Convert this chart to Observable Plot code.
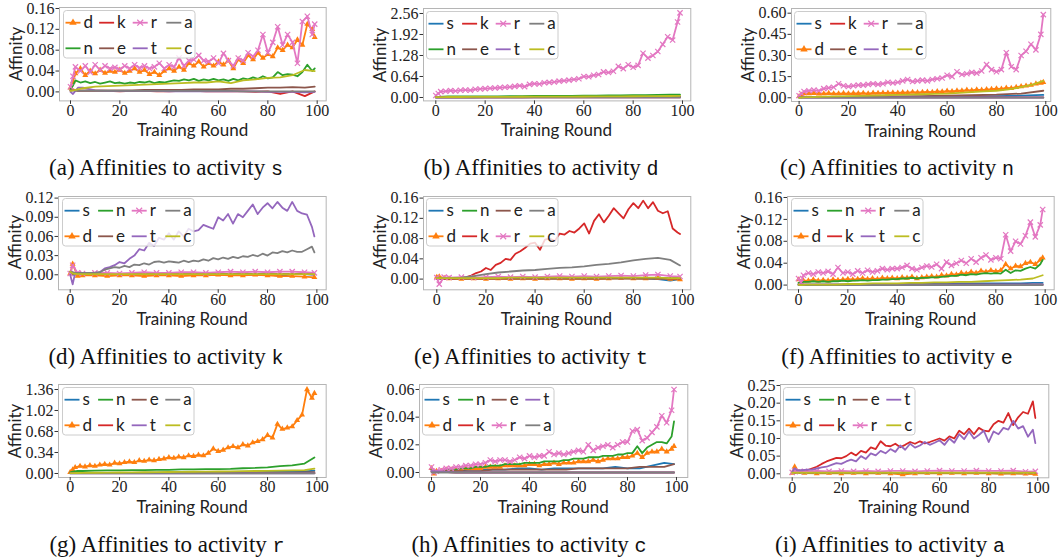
<!DOCTYPE html>
<html><head><meta charset="utf-8">
<script src="https://cdn.jsdelivr.net/npm/d3@7"></script>
<script src="https://cdn.jsdelivr.net/npm/@observablehq/plot@0.6"></script>
<style>
html,body{margin:0;padding:0;background:#fff;}
#root{position:relative;width:1060px;height:560px;overflow:hidden;background:#fff;}
.cap{position:absolute;font-family:"Liberation Serif","Times New Roman",serif;font-size:23px;line-height:1;color:#111;white-space:nowrap;transform:translate(-50%,-50%);}
.cap .tt{font-family:"Liberation Mono","DejaVu Sans Mono",monospace;font-size:20px;}
.lab{position:absolute;font-family:Lato,"DejaVu Sans",sans-serif;font-size:17px;line-height:1;color:#222;white-space:nowrap;transform:translate(-50%,-50%);}
.lab.rot{transform:translate(-50%,-50%) rotate(-90deg);}
</style></head><body><div id="root"></div>
<script>
// ---------- rounds (x categories) ----------
const R2 = [0,1,2,4,6,8,10,12,14,16,18,20,22,24,26,28,30,32,34,36,38,40,42,44,46,48,50,52,54,56,58,60,62,64,66,68,70,72,74,76,78,80,82,84,86,88,90,92,94,96,98,99];
const R5 = [0,1,3,5,10,15,20,25,30,35,40,45,50,55,60,65,70,75,80,85,90,95,99];
const R10 = [0,10,20,30,40,50,60,70,80,90,99];
const X_TICKS = [0,20,40,60,80,100];

// ---------- y tick values per panel ----------
const Y_TICKS_A = [0,0.04,0.08,0.12,0.16];
const Y_TICKS_B = [0,0.64,1.28,1.92,2.56];
const Y_TICKS_C = [0,0.15,0.30,0.45,0.60];
const Y_TICKS_D = [0,0.03,0.06,0.09,0.12];
const Y_TICKS_E = [0,0.04,0.08,0.12,0.16];
const Y_TICKS_F = [0,0.04,0.08,0.12,0.16];
const Y_TICKS_G = [0,0.34,0.68,1.02,1.36];
const Y_TICKS_H = [0,0.02,0.04,0.06];
const Y_TICKS_I = [0,0.05,0.10,0.15,0.20,0.25];

// ---------- (a) affinities to s ----------
const a_d = [0.008,0.020,0.035,0.045,0.032,0.040,0.035,0.042,0.036,0.040,
 0.038,0.042,0.036,0.040,0.045,0.038,0.042,0.034,0.038,0.032,
 0.040,0.045,0.040,0.048,0.042,0.055,0.050,0.058,0.048,0.055,
 0.050,0.058,0.052,0.060,0.045,0.062,0.055,0.070,0.062,0.075,
 0.065,0.072,0.068,0.085,0.080,0.090,0.085,0.100,0.090,0.130,
 0.120,0.105];
const a_n = [0.005,0.012,0.022,0.018,0.020,0.017,0.019,0.016,0.018,0.020,
 0.017,0.018,0.016,0.018,0.017,0.019,0.018,0.020,0.017,0.019,
 0.018,0.020,0.022,0.021,0.024,0.022,0.025,0.021,0.024,0.022,
 0.025,0.022,0.024,0.021,0.025,0.022,0.026,0.024,0.028,0.025,
 0.030,0.026,0.028,0.038,0.032,0.034,0.033,0.030,0.038,0.052,
 0.040,0.045];
const a_r = [0.010,0.030,0.048,0.040,0.050,0.038,0.052,0.042,0.050,0.045,
 0.047,0.043,0.050,0.045,0.052,0.046,0.050,0.045,0.048,0.055,
 0.045,0.052,0.048,0.065,0.050,0.060,0.062,0.070,0.060,0.058,
 0.065,0.055,0.074,0.060,0.050,0.065,0.060,0.075,0.068,0.080,
 0.110,0.075,0.095,0.125,0.090,0.110,0.095,0.055,0.135,0.145,
 0.110,0.130];
const a_k = [0.002,0.005,0.002,0.002, 0.002,0.002,0.001,0.002,0.002,0.001,0.001,0.002,0.002,0.001,0.001,0.001,0.001,0.000, 0.001,-0.004,0.001,-0.008,0.001];
const a_e = [0.003,0.003,0.003,0.003, 0.003,0.003,0.003,0.003,0.004,0.004,0.004,0.004,0.005,0.005,0.005,0.006,0.006,0.007, 0.008,0.008,0.009,0.008,0.010];
const a_t = [0.000,-0.004,0.008,0.008, 0.003,0.002,0.002,0.002,0.002,0.002,0.001,0.001,0.001,0.001,0.001,0.001,0.001,0.001, 0.000,0.000,0.000,-0.001,0.000];
const a_a = [0.003,0.003,0.002,0.002, 0.002,0.002,0.002,0.002,0.002,0.002,0.002,0.002,0.002,0.002,0.002,0.002,0.001,0.001, 0.001,0.001,0.001,0.001,0.001];
const a_c = [0.002,0.003,0.005,0.007, 0.010,0.011,0.012,0.013,0.014,0.015,0.016,0.017,0.018,0.018,0.020,0.017,0.022,0.024, 0.027,0.028,0.032,0.042,0.040];

// ---------- (b) affinities to d ----------
const b_s = [0.005,0.005,0.006,0.007, 0.008,0.008,0.009,0.010,0.010,0.011,0.012,0.012,0.013,0.014,0.014,0.015,0.016,0.017, 0.018,0.019,0.020,0.022,0.025];
const b_n = [0.020,0.020,0.025,0.030, 0.030,0.033,0.035,0.037,0.040,0.042,0.045,0.047,0.050,0.052,0.055,0.058,0.060,0.065, 0.070,0.075,0.080,0.085,0.090];
const b_k = [0.004,0.004,0.004,0.004,0.004,0.004,0.004,0.004,0.004,0.004,0.004];
const b_e = [0.005,0.005,0.005,0.005, 0.006,0.006,0.007,0.007,0.008,0.008,0.009,0.009,0.010,0.010,0.011,0.011,0.012,0.012, 0.013,0.014,0.015,0.016,0.018];
const b_r = [0.06,0.12,0.18,0.19,0.21,0.20,0.22,0.23,0.22,0.25,
 0.26,0.27,0.28,0.29,0.30,0.31,0.32,0.34,0.36,0.33,
 0.40,0.42,0.41,0.45,0.46,0.47,0.50,0.51,0.53,0.55,
 0.57,0.64,0.63,0.68,0.70,0.78,0.76,0.80,0.95,0.88,
 1.00,0.92,0.98,1.35,1.20,1.28,1.40,1.62,1.85,1.75,
 2.30,2.58];
const b_t = [0.003,0.003,0.003,0.003,0.003,0.003,0.003,0.003,0.003,0.003,0.003];
const b_a = [0.002,0.002,0.002,0.002,0.002,0.002,0.002,0.002,0.002,0.002,0.002];
const b_c = [0.010,0.010,0.012,0.015, 0.015,0.017,0.018,0.020,0.020,0.022,0.024,0.025,0.027,0.028,0.030,0.032,0.034,0.036, 0.038,0.040,0.043,0.046,0.050];

// ---------- (c) affinities to n ----------
const c_s = [0.005,0.005,0.006,0.006,0.007,0.008,0.009,0.010,0.012,0.015,0.020];
const c_d = [0.010,0.020,0.030,0.030,0.032,0.028,0.030,0.032,0.030,0.030,
 0.032,0.030,0.032,0.031,0.033,0.030,0.034,0.033,0.035,0.034,
 0.036,0.035,0.038,0.036,0.040,0.038,0.040,0.042,0.040,0.045,
 0.043,0.048,0.046,0.050,0.050,0.055,0.052,0.058,0.055,0.060,
 0.062,0.065,0.063,0.070,0.068,0.075,0.080,0.085,0.090,0.100,
 0.105,0.110];
const c_k = [0.003,0.003,0.003,0.003,0.003,0.003,0.003,0.003,0.003,0.003,0.003];
const c_e = [0.005,0.006,0.007,0.008,0.010,0.012,0.015,0.018,0.022,0.030,0.050];
const c_r = [0.015,0.030,0.045,0.050,0.055,0.050,0.065,0.070,0.075,0.100,
 0.085,0.080,0.085,0.090,0.090,0.095,0.100,0.095,0.100,0.110,
 0.105,0.110,0.120,0.130,0.115,0.120,0.125,0.120,0.130,0.135,
 0.140,0.160,0.150,0.185,0.165,0.170,0.180,0.175,0.190,0.235,
 0.200,0.185,0.200,0.320,0.220,0.200,0.300,0.330,0.380,0.340,
 0.450,0.590];
const c_t = [0.002,0.002,0.002,0.002,0.002,0.002,0.002,0.002,0.002,0.002,0.002];
const c_a = [0.001,0.001,0.001,0.001,0.001,0.001,0.001,0.001,0.001,0.001,0.001];
const c_c = [0.000,0.002,0.004,0.005, 0.008,0.010,0.012,0.014,0.016,0.018,0.020,0.022,0.025,0.028,0.030,0.035,0.040,0.045, 0.050,0.060,0.075,0.095,0.120];

// ---------- (d) affinities to k ----------
const d_s = [0.002,0.000,0.001,0.001, 0.001,0.001,0.001,0.001,0.001,0.001,0.001,0.001,0.001,0.001,0.001,0.001,0.001,0.000, 0.001,-0.002,0.001,0.001,0.000];
const d_d = [0.002,0.017,-0.002,-0.001, -0.001,-0.002,-0.001,-0.001,-0.002,-0.001,-0.001,-0.002,-0.001,-0.001,0.000,-0.001,-0.001,0.000, -0.001,-0.002,-0.002,-0.003,-0.004];
const d_n = [0.004,0.002,0.001,0.001, 0.001,0.001,0.001,0.001,0.001,0.001,0.001,0.001,0.001,0.001,0.001,0.001,0.001,0.001, 0.001,0.001,0.001,0.001,0.001];
const d_e = [0.003,0.001,0.001,0.001, 0.001,0.001,0.001,0.001,0.001,0.001,0.001,0.001,0.001,0.001,0.001,0.001,0.001,0.001, 0.001,0.001,0.001,0.001,0.001];
const d_r = [0.002,0.015,0.003,0.002, 0.003,0.003,0.002,0.003,0.004,0.003,0.003,0.004,0.004,0.003,0.004,0.005,0.004,0.005, 0.004,0.005,0.005,0.004,0.003];
const d_t = [0.000,-0.015,0.003,0.003,0.003,0.003,0.003,0.004,0.010,0.012,
 0.015,0.020,0.018,0.025,0.030,0.040,0.038,0.050,0.045,0.058,
 0.055,0.065,0.055,0.068,0.060,0.072,0.068,0.070,0.078,0.075,
 0.072,0.090,0.085,0.095,0.080,0.095,0.090,0.100,0.110,0.095,
 0.105,0.112,0.104,0.114,0.105,0.100,0.114,0.100,0.096,0.094,
 0.075,0.060];
const d_a = [0.005,0.004,0.003,0.003,0.003,0.003,0.003,0.004,0.008,0.010,
 0.012,0.011,0.014,0.012,0.016,0.015,0.018,0.016,0.020,0.021,
 0.019,0.021,0.020,0.019,0.022,0.020,0.022,0.021,0.024,0.022,
 0.026,0.024,0.027,0.025,0.028,0.026,0.029,0.028,0.031,0.029,
 0.033,0.030,0.035,0.034,0.037,0.035,0.038,0.036,0.036,0.040,
 0.044,0.035];
const d_c = [0.005,0.002,0.001,0.001, 0.001,0.001,0.001,0.001,0.001,0.001,0.001,0.001,0.001,0.001,0.001,0.001,0.001,0.001, 0.001,0.001,0.001,0.001,0.001];

// ---------- (e) affinities to t ----------
const e_s = [0.002,0.001,0.001,0.001, 0.001,0.001,0.001,0.001,0.001,0.001,0.001,0.001,0.001,0.001,0.001,0.001,0.002,0.002, 0.002,0.001,0.000,-0.003,0.000];
const e_d = [0.004,0.005,0.002,0.001, 0.000,0.001,0.000,0.001,0.000,0.001,0.000,0.001,0.001,0.000,0.001,0.000,0.001,0.002, 0.001,0.001,0.002,0.000,-0.001];
const e_n = [0.003,0.002,0.002,0.002, 0.002,0.002,0.002,0.002,0.002,0.002,0.002,0.002,0.002,0.002,0.002,0.002,0.002,0.002, 0.002,0.002,0.002,0.002,0.002];
const e_k = [0.000,0.001,0.001,0.001,0.001,0.002,0.002,0.004,0.007,0.012,
 0.015,0.022,0.018,0.028,0.032,0.040,0.038,0.050,0.055,0.062,
 0.070,0.072,0.058,0.078,0.080,0.075,0.090,0.088,0.095,0.092,
 0.100,0.110,0.090,0.115,0.128,0.112,0.125,0.140,0.130,0.120,
 0.138,0.150,0.140,0.155,0.140,0.152,0.135,0.130,0.134,0.100,
 0.092,0.089];
const e_e = [0.002,0.001,0.001,0.001, 0.001,0.001,0.001,0.001,0.001,0.001,0.001,0.001,0.001,0.001,0.001,0.001,0.001,0.001, 0.001,0.001,0.001,0.001,0.001];
const e_r = [0.003,-0.010,0.004,0.003, 0.004,0.003,0.004,0.005,0.004,0.005,0.004,0.005,0.006,0.005,0.006,0.005,0.006,0.007, 0.006,0.008,0.009,0.006,0.005];
const e_a = [0.002,0.002,0.002,0.002, 0.003,0.006,0.010,0.013,0.015,0.017,0.018,0.020,0.022,0.023,0.025,0.028,0.030,0.033, 0.037,0.040,0.042,0.038,0.027];
const e_c = [0.002,0.002,0.002,0.002, 0.002,0.002,0.002,0.002,0.003,0.003,0.003,0.003,0.003,0.003,0.003,0.003,0.003,0.003, 0.003,0.003,0.003,0.002,0.002];

// ---------- (f) affinities to e ----------
const f_s = [0.002,0.001,0.001,0.001, 0.001,0.001,0.001,0.002,0.002,0.002,0.002,0.002,0.002,0.002,0.003,0.003,0.003,0.003, 0.003,0.003,0.003,0.004,0.004];
const f_d = [0.010,0.006,0.008,0.008,0.010,0.008,0.009,0.008,0.010,0.009,
 0.010,0.011,0.010,0.011,0.012,0.011,0.012,0.011,0.013,0.012,
 0.013,0.012,0.014,0.013,0.015,0.012,0.014,0.015,0.016,0.015,
 0.018,0.017,0.020,0.019,0.022,0.021,0.024,0.022,0.026,0.024,
 0.027,0.025,0.027,0.038,0.030,0.035,0.034,0.040,0.042,0.038,
 0.046,0.050];
const f_n = [0.004,0.005,0.006,0.006,0.007,0.006,0.007,0.006,0.007,0.007,
 0.008,0.007,0.008,0.008,0.009,0.008,0.009,0.009,0.010,0.010,
 0.011,0.011,0.012,0.012,0.013,0.012,0.013,0.013,0.014,0.014,
 0.015,0.016,0.017,0.017,0.019,0.018,0.020,0.019,0.021,0.022,
 0.021,0.022,0.021,0.028,0.022,0.027,0.026,0.030,0.033,0.030,
 0.038,0.046];
const f_k = [0.001,0.001,0.001,0.001,0.001,0.001,0.001,0.001,0.001,0.001,0.001];
const f_r = [0.012,0.005,0.018,0.022,0.020,0.024,0.022,0.025,0.020,0.032,
 0.022,0.024,0.020,0.026,0.022,0.027,0.024,0.026,0.030,0.028,
 0.030,0.030,0.032,0.036,0.030,0.028,0.032,0.035,0.033,0.038,
 0.030,0.042,0.036,0.040,0.045,0.040,0.048,0.042,0.050,0.055,
 0.046,0.050,0.048,0.092,0.062,0.080,0.075,0.090,0.115,0.088,
 0.110,0.138];
const f_t = [0.001,0.001,0.001,0.001,0.001,0.001,0.001,0.001,0.001,0.001,0.001];
const f_a = [0.000,0.000,0.000,0.000,0.000,0.000,0.000,0.000,0.000,0.000,0.000];
const f_c = [0.001,0.000,0.001,0.001, 0.001,0.001,0.002,0.002,0.003,0.003,0.003,0.004,0.004,0.005,0.005,0.006,0.006,0.007, 0.008,0.009,0.010,0.012,0.018];

// ---------- (g) affinities to r ----------
const g_s = [0.005,0.005,0.006,0.007, 0.008,0.009,0.010,0.011,0.012,0.013,0.014,0.015,0.016,0.017,0.018,0.019,0.020,0.022, 0.024,0.026,0.028,0.032,0.045];
const g_d = [0.02,0.06,0.10,0.12,0.11,0.13,0.12,0.14,0.15,0.14,
 0.17,0.16,0.18,0.19,0.18,0.21,0.20,0.22,0.21,0.23,
 0.24,0.26,0.25,0.27,0.26,0.29,0.28,0.30,0.29,0.33,
 0.40,0.36,0.38,0.42,0.44,0.42,0.47,0.45,0.50,0.52,
 0.55,0.62,0.58,0.80,0.72,0.74,0.76,0.86,0.95,1.36,
 1.22,1.30];
const g_n = [0.020,0.030,0.040,0.040, 0.045,0.050,0.050,0.055,0.055,0.060,0.060,0.065,0.065,0.070,0.070,0.075,0.085,0.090, 0.100,0.120,0.130,0.160,0.260];
const g_k = [0.005,0.005,0.005,0.005,0.005,0.005,0.005,0.005,0.005,0.005,0.005];
const g_e = [0.005,0.006,0.007,0.008,0.009,0.010,0.011,0.012,0.013,0.015,0.020];
const g_t = [0.003,0.003,0.003,0.003,0.003,0.003,0.003,0.003,0.003,0.003,0.003];
const g_a = [0.002,0.002,0.002,0.002,0.002,0.002,0.002,0.002,0.002,0.002,0.002];
const g_c = [0.005,0.005,0.008,0.010, 0.012,0.014,0.016,0.018,0.020,0.022,0.024,0.026,0.028,0.030,0.032,0.035,0.037,0.040, 0.042,0.045,0.050,0.055,0.080];

// ---------- (h) affinities to c ----------
const h_s = [0.002,0.000,0.001,0.001, 0.001,0.002,0.002,0.002,0.002,0.003,0.003,0.002,0.003,0.003,0.003,0.003,0.003,0.004, 0.003,0.003,0.005,0.007,0.006];
const h_d = [0.003,-0.001,0.001,0.001,0.002,0.002,0.002,0.002,0.003,0.003,
 0.003,0.003,0.004,0.004,0.004,0.004,0.005,0.005,0.005,0.005,
 0.005,0.006,0.006,0.005,0.006,0.006,0.007,0.006,0.007,0.007,
 0.007,0.008,0.008,0.008,0.009,0.008,0.009,0.010,0.010,0.010,
 0.011,0.011,0.012,0.014,0.011,0.014,0.015,0.015,0.017,0.015,
 0.017,0.019];
const h_n = [0.002,0.000,0.001,0.001,0.002,0.002,0.002,0.003,0.003,0.003,
 0.004,0.004,0.004,0.005,0.005,0.005,0.006,0.006,0.006,0.006,
 0.007,0.007,0.007,0.007,0.008,0.008,0.008,0.008,0.009,0.009,
 0.010,0.010,0.010,0.011,0.011,0.011,0.012,0.012,0.012,0.013,
 0.013,0.014,0.014,0.019,0.014,0.018,0.020,0.022,0.022,0.021,
 0.026,0.037];
const h_k = [0.001,0.000,0.000,0.000,0.000,0.000,0.000,0.000,0.000,0.000,0.000];
const h_e = [0.001,0.000,0.001,0.001, 0.001,0.001,0.001,0.002,0.002,0.002,0.002,0.002,0.002,0.002,0.003,0.003,0.003,0.003, 0.003,0.004,0.004,0.004,0.006];
const h_r = [0.004,0.000,0.001,0.002,0.003,0.003,0.004,0.004,0.005,0.005,
 0.006,0.006,0.007,0.009,0.008,0.009,0.009,0.008,0.009,0.011,
 0.010,0.012,0.011,0.012,0.012,0.015,0.013,0.014,0.013,0.014,
 0.015,0.016,0.015,0.020,0.016,0.018,0.019,0.020,0.018,0.020,
 0.022,0.022,0.030,0.031,0.023,0.025,0.029,0.033,0.041,0.036,
 0.045,0.060];
const h_t = [0.001,0.000,0.000,0.000,0.000,0.000,0.000,0.000,0.000,0.000,0.000];
const h_a = [0.000,0.000,0.000,0.000,0.000,0.000,0.000,0.000,0.000,0.000,0.000];

// ---------- (i) affinities to a ----------
const i_s = [0.003,0.002,0.002,0.002, 0.002,0.002,0.002,0.002,0.002,0.002,0.002,0.002,0.002,0.002,0.002,0.002,0.002,0.002, 0.002,0.001,0.001,0.001,0.001];
const i_d = [0.002,0.020,0.004,0.002, 0.001,0.002,0.001,0.002,0.001,0.002,0.001,-0.002,0.001,0.002,0.001,0.002,0.001,0.002, 0.001,0.000,0.001,0.000,-0.001];
const i_n = [0.003,0.002,0.002,0.002, 0.002,0.002,0.002,0.002,0.002,0.002,0.002,0.002,0.002,0.002,0.002,0.002,0.002,0.002, 0.002,0.002,0.002,0.002,0.002];
const i_k = [0.005,0.008,0.010,0.006,0.010,0.015,0.020,0.028,0.035,0.040,
 0.045,0.044,0.050,0.060,0.052,0.065,0.060,0.075,0.070,0.092,
 0.080,0.078,0.085,0.075,0.082,0.090,0.085,0.092,0.086,0.090,
 0.095,0.100,0.094,0.106,0.100,0.122,0.112,0.128,0.112,0.130,
 0.122,0.120,0.140,0.150,0.145,0.172,0.138,0.160,0.175,0.170,
 0.205,0.158];
const i_e = [0.002,0.002,0.002,0.002, 0.002,0.002,0.002,0.002,0.002,0.002,0.002,0.002,0.002,0.002,0.002,0.002,0.002,0.002, 0.002,0.002,0.002,0.002,0.002];
const i_r = [0.004,0.008,0.006,0.007, 0.008,0.007,0.008,0.007,0.008,0.007,0.008,0.008,0.007,0.008,0.009,0.008,0.008,0.009, 0.008,0.008,0.009,0.006,0.007];
const i_t = [0.005,0.016,0.010,0.010,0.012,0.012,0.015,0.018,0.020,0.025,
 0.030,0.028,0.035,0.040,0.035,0.050,0.042,0.058,0.052,0.065,
 0.058,0.070,0.062,0.080,0.068,0.085,0.074,0.080,0.090,0.082,
 0.088,0.095,0.082,0.100,0.088,0.112,0.098,0.120,0.100,0.110,
 0.122,0.090,0.120,0.112,0.130,0.125,0.150,0.128,0.135,0.105,
 0.125,0.087];
const i_c = [0.003,0.003,0.003,0.003, 0.003,0.003,0.003,0.003,0.003,0.003,0.003,0.003,0.003,0.003,0.003,0.003,0.003,0.003, 0.003,0.003,0.003,0.003,0.003];

// ---------- series order, colours ----------
const ORDER = ["s","d","n","k","e","r","t","a","c"];
const COLORS = {s:"#1f77b4", d:"#ff7f0e", n:"#2ca02c", k:"#d62728", e:"#8c564b", r:"#e377c2", t:"#9467bd", a:"#7f7f7f", c:"#bcbd22"};

const PANELS = [
 {id:"a", target:"s", yTicks:Y_TICKS_A, series:{d:[R2,a_d], n:[R2,a_n], k:[R5,a_k], e:[R5,a_e], r:[R2,a_r], t:[R5,a_t], a:[R5,a_a], c:[R5,a_c]}},
 {id:"b", target:"d", yTicks:Y_TICKS_B, series:{s:[R5,b_s], n:[R5,b_n], k:[R10,b_k], e:[R5,b_e], r:[R2,b_r], t:[R10,b_t], a:[R10,b_a], c:[R5,b_c]}},
 {id:"c", target:"n", yTicks:Y_TICKS_C, series:{s:[R10,c_s], d:[R2,c_d], k:[R10,c_k], e:[R10,c_e], r:[R2,c_r], t:[R10,c_t], a:[R10,c_a], c:[R5,c_c]}},
 {id:"d", target:"k", yTicks:Y_TICKS_D, series:{s:[R5,d_s], d:[R5,d_d], n:[R5,d_n], e:[R5,d_e], r:[R5,d_r], t:[R2,d_t], a:[R2,d_a], c:[R5,d_c]}},
 {id:"e", target:"t", yTicks:Y_TICKS_E, series:{s:[R5,e_s], d:[R5,e_d], n:[R5,e_n], k:[R2,e_k], e:[R5,e_e], r:[R5,e_r], a:[R5,e_a], c:[R5,e_c]}},
 {id:"f", target:"e", yTicks:Y_TICKS_F, series:{s:[R5,f_s], d:[R2,f_d], n:[R2,f_n], k:[R10,f_k], r:[R2,f_r], t:[R10,f_t], a:[R10,f_a], c:[R5,f_c]}},
 {id:"g", target:"r", yTicks:Y_TICKS_G, series:{s:[R5,g_s], d:[R2,g_d], n:[R5,g_n], k:[R10,g_k], e:[R10,g_e], t:[R10,g_t], a:[R10,g_a], c:[R5,g_c]}},
 {id:"h", target:"c", yTicks:Y_TICKS_H, series:{s:[R5,h_s], d:[R2,h_d], n:[R2,h_n], k:[R10,h_k], e:[R5,h_e], r:[R2,h_r], t:[R10,h_t], a:[R10,h_a]}},
 {id:"i", target:"a", yTicks:Y_TICKS_I, series:{s:[R5,i_s], d:[R5,i_d], n:[R5,i_n], k:[R2,i_k], e:[R5,i_e], r:[R5,i_r], t:[R2,i_t], c:[R5,i_c]}}
];

// ---------- layout (page pixels of frame and tick anchors) ----------
const LAYOUT = [
 {L:59.3,R:326,T:7.3,B:100.7,x0:70.3,x100:317,y0:91.7,yt:8.3,cx:166,cy:168},
 {L:422.7,R:690,T:8.3,B:100.7,x0:435,x100:681.7,y0:97.3,yt:13.3,cx:541,cy:168},
 {L:790.7,R:1050,T:8,B:101,x0:798.3,x100:1045,y0:97.3,yt:12.7,cx:897,cy:168},
 {L:58.3,R:326,T:195.7,B:289,x0:70,x100:316.7,y0:274,yt:197.3,cx:166,cy:357},
 {L:422.7,R:690,T:195.7,B:289,x0:436,x100:681.7,y0:278.3,yt:197.3,cx:531,cy:357},
 {L:787.3,R:1054,T:195.7,B:289,x0:798.3,x100:1045,y0:284.3,yt:196.7,cx:897,cy:357},
 {L:58.3,R:326,T:384.3,B:477.3,x0:70,x100:316.7,y0:473.3,yt:389.3,cx:167,cy:545},
 {L:419,R:687.3,T:384.3,B:477.3,x0:431,x100:676,y0:472.3,yt:389.3,cx:529,cy:545},
 {L:780,R:1048.3,T:384,B:477.3,x0:791.7,x100:1037.3,y0:473.3,yt:385,cx:890,cy:545}
];

const SERIF = "'Liberation Serif', 'Times New Roman', serif";
const root = document.getElementById("root");

PANELS.forEach((p, idx) => {
  const g = LAYOUT[idx];
  const ux = (g.x100 - g.x0) / 100;
  const xDomain = [(g.L - g.x0) / ux, (g.R - g.x0) / ux];
  const ytop = p.yTicks[p.yTicks.length - 1];
  const uy = (g.y0 - g.yt) / ytop;
  const yDomain = [(g.y0 - g.B) / uy, (g.y0 - g.T) / uy];
  const ml = 62, mt = 8, mr = 8, mb = 22;
  const width = g.R - g.L + ml + mr, height = g.B - g.T + mt + mb;

  const marks = [];
  for (const key of ORDER) {
    if (!p.series[key]) continue;
    const [rounds, vals] = p.series[key];
    const data = vals.map((v, i) => ({round: rounds[i], value: v})).filter(d => d.round !== undefined);
    marks.push(Plot.line(data, {x: "round", y: "value", stroke: COLORS[key], strokeWidth: 1.8, clip: true}));
    if (key === "d") marks.push(Plot.dot(data, {x: "round", y: "value", symbol: "triangle", fill: COLORS[key], r: 2.2, clip: true}));
    if (key === "r") marks.push(Plot.dot(data, {x: "round", y: "value", symbol: "times", stroke: COLORS[key], fill: "none", r: 2.5, strokeWidth: 1.2, clip: true}));
  }

  const chart = Plot.plot({
    width, height, marginLeft: ml, marginRight: mr, marginTop: mt, marginBottom: mb,
    x: {domain: xDomain},
    y: {domain: yDomain},
    style: {fontFamily: SERIF, fontSize: "16px", color: "#222", background: "transparent", overflow: "visible"},
    marks: [
      ...marks,
      Plot.frame({stroke: "#b5b5b5"}),
      Plot.axisX({ticks: X_TICKS, tickSize: 3.5, tickPadding: 0, label: null, tickFormat: d => String(d), stroke: "#333", fontFamily: SERIF, fontSize: 16}),
      Plot.axisY({ticks: p.yTicks, tickSize: 3.5, tickPadding: 1.5, label: null, tickFormat: d => d.toFixed(2), stroke: "#333", fontFamily: SERIF, fontSize: 16})
    ]
  });
  chart.style.position = "absolute";
  chart.style.left = (g.L - ml) + "px";
  chart.style.top = (g.T - mt) + "px";
  root.appendChild(chart);

  // legend
  const entries = ORDER.filter(k => k !== p.target);
  const lg = d3.select(root).append("svg")
    .style("position", "absolute").style("left", (g.L + 3.4) + "px").style("top", (g.T + 2.7) + "px")
    .attr("width", 133).attr("height", 49);
  lg.append("rect").attr("x", 0.5).attr("y", 0.5).attr("width", 131.5).attr("height", 47.5).attr("rx", 3)
    .attr("fill", "rgba(255,255,255,0.8)").attr("stroke", "#cccccc");
  entries.forEach((k, i) => {
    const col = Math.floor(i / 2), row = i % 2;
    const x = 2.5 + col * 33.6, y = 12.7 + row * 25.6;
    lg.append("line").attr("x1", x).attr("x2", x + 15).attr("y1", y).attr("y2", y)
      .attr("stroke", COLORS[k]).attr("stroke-width", 1.8);
    if (k === "d") {
      lg.append("path").attr("d", d3.symbol(d3.symbolTriangle, 24)()).attr("transform", `translate(${x + 7.5},${y})`).attr("fill", COLORS[k]);
    }
    if (k === "r") {
      lg.append("path").attr("d", d3.symbol(d3.symbolTimes, 24)()).attr("transform", `translate(${x + 7.5},${y})`)
        .attr("fill", "none").attr("stroke", COLORS[k]).attr("stroke-width", 1.2);
    }
    lg.append("text").attr("x", x + 18).attr("y", y + 5.5).text(k)
      .attr("font-family", "Lato, 'DejaVu Sans', sans-serif").attr("font-size", 17).attr("fill", "#222");
  });

  // axis labels
  const yl = document.createElement("div");
  yl.className = "lab rot"; yl.textContent = "Affinity";
  yl.style.left = (g.L - 44) + "px"; yl.style.top = ((g.T + g.B) / 2) + "px";
  root.appendChild(yl);
  const xl = document.createElement("div");
  xl.className = "lab"; xl.textContent = "Training Round";
  xl.style.left = ((g.L + g.R) / 2) + "px"; xl.style.top = (g.B + 28.5) + "px";
  root.appendChild(xl);

  // caption
  const cap = document.createElement("div");
  cap.className = "cap";
  cap.style.left = g.cx + "px"; cap.style.top = g.cy + "px";
  cap.innerHTML = `(${p.id}) Affinities to activity <span class="tt">${p.target}</span>`;
  root.appendChild(cap);
});
</script></body></html>
